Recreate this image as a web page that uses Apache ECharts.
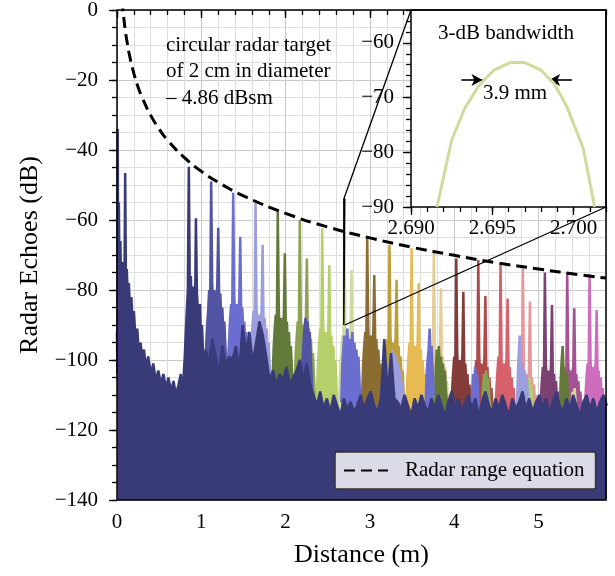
<!DOCTYPE html>
<html>
<head>
<meta charset="utf-8">
<script src="https://cdn.jsdelivr.net/npm/echarts@6.0.0/dist/echarts.min.js"></script>
<style>
  html, body { margin: 0; padding: 0; background: #fff; }
  #chart { width: 615px; height: 576px; }
</style>
</head>
<body>
<div id="chart"></div>
<script>
const FONT = '"Liberation Serif", "DejaVu Serif", serif';
const SAMPLE_STEP = 0.012; // m between samples of the peak / echo snippets
const FLOOR_STEP = 0.04;   // m between samples of the background floor

// tab20b, one colour per target position
const traceColors = ['#393b79', '#5254a3', '#6b6ecf', '#9c9ede', '#637939', '#8ca252', '#b5cf6b',
  '#cedb9c', '#8c6d31', '#bd9e39', '#e7ba52', '#e7cb94', '#843c39', '#ad494a', '#d6616b',
  '#e7969c', '#7b4173', '#a55194', '#ce6dbd'];

// first sample of each target echo (main peak sits on sample 6, double bounce on 13)
const peakStarts = [0.780, 1.045, 1.306, 1.571, 1.835, 2.096, 2.362, 2.625, 2.896, 3.160,
  3.422, 3.686, 3.952, 4.213, 4.477, 4.742, 5.003, 5.268, 5.533];

const peakSkirts = [
  [-108, -104, -99, -92, -86, -80, -44.8, -82, -76, -88, -79, -84, -90, -59.5, -81, -86, -92, -84, -95, -90, -98, -104, -110],
  [-104, -96, -90, -86, -80, -84, -49, -78, -85, -80, -88, -83, -79, -62.2, -84, -81, -88, -85, -92, -89, -96, -102, -110],
  [-108, -100, -94, -88, -84, -88, -52.2, -82, -89, -84, -91, -86, -83, -64.8, -88, -85, -92, -89, -96, -92, -100, -106, -112],
  [-110, -102, -95, -90, -86, -91, -54.9, -85, -92, -87, -94, -89, -86, -67.1, -91, -88, -95, -91, -98, -95, -102, -108, -114],
  [-112, -104, -96, -91, -87, -92, -57.7, -85, -93, -88, -95, -90, -87, -69.5, -92, -89, -96, -92, -99, -96, -103, -110, -116],
  [-114, -106, -98, -93, -89, -94, -60, -88, -95, -90, -97, -92, -89, -71, -94, -91, -98, -94, -101, -98, -105, -112, -118],
  [-116, -108, -100, -95, -91, -96, -62.4, -90, -97, -92, -99, -94, -91, -72.9, -96, -93, -100, -96, -103, -100, -107, -114, -120],
  [-118, -110, -102, -97, -93, -98, -63.6, -92, -99, -94, -101, -96, -93, -74.3, -98, -95, -102, -98, -105, -102, -109, -116, -122],
  [-118, -110, -101, -96, -92, -97, -65, -91, -98, -93, -100, -95, -92, -75.7, -97, -94, -101, -97, -104, -101, -108, -115, -122],
  [-119, -111, -103, -98, -94, -99, -67.1, -93, -100, -95, -102, -97, -94, -77.1, -99, -96, -103, -99, -106, -103, -110, -116, -122],
  [-120, -112, -104, -99, -95, -100, -68.1, -94, -101, -96, -103, -98, -95, -78.1, -100, -97, -104, -100, -107, -104, -111, -117, -123],
  [-121, -113, -106, -101, -97, -102, -69, -96, -103, -98, -105, -100, -97, -79.5, -102, -99, -106, -102, -109, -106, -112, -118, -124],
  [-122, -115, -108, -103, -99, -104, -71, -98, -105, -100, -107, -102, -99, -80.5, -104, -101, -108, -104, -110, -107, -113, -119, -125],
  [-123, -116, -109, -104, -100, -105, -71.4, -99, -106, -101, -108, -103, -100, -81.7, -105, -102, -109, -105, -111, -108, -114, -120, -126],
  [-123, -116, -108, -103, -99, -104, -72.2, -100, -106, -101, -107, -102, -100, -82.4, -104, -102, -108, -105, -110, -108, -114, -120, -126],
  [-124, -118, -112, -107, -103, -108, -73.8, -102, -109, -104, -110, -106, -103, -83.3, -108, -105, -111, -107, -113, -110, -116, -121, -127],
  [-124, -118, -111, -106, -102, -107, -75, -101, -108, -103, -109, -105, -102, -84.3, -107, -104, -110, -106, -112, -109, -115, -121, -127],
  [-124, -118, -111, -106, -102, -107, -75, -101, -107, -103, -109, -104, -102, -85.2, -106, -104, -110, -106, -112, -109, -115, -121, -127],
  [-124, -117, -110, -105, -101, -106, -75.5, -100, -106, -102, -108, -103, -101, -85.7, -105, -103, -109, -105, -111, -108, -114, -120, -126]
];

// multipath echoes further out (which trace, first sample, values)
const echoTrace = [1, 2, 2, 2, 3, 3, 4, 4, 5, 6, 7];
const echoStarts = [2.190, 2.660, 3.660, 4.200, 3.220, 4.740, 3.770, 5.250, 4.330, 4.840, 5.380];
const echoValues = [
  [-110, -100, -94, -90, -88, -93, -89, -96, -92, -99, -106, -114],
  [-112, -102, -97, -93, -99, -95, -91, -97, -94, -99, -96, -92, -98, -95, -100, -97, -103, -99, -106, -112],
  [-114, -104, -100, -97, -91, -99, -96, -103, -110],
  [-117, -109, -104, -107, -102, -107, -104, -110, -117],
  [-113, -104, -99, -102, -97, -101, -98, -103, -99, -105, -101, -107, -103, -110, -106, -112, -118],
  [-116, -106, -99, -93, -100, -104, -101, -106, -103, -108, -105, -110, -117],
  [-113, -102, -97, -100, -96, -103, -99, -104, -101, -107, -103, -109, -112, -118],
  [-117, -106, -100, -96, -104, -108, -105, -103, -109, -112, -118],
  [-117, -108, -104, -107, -103, -108, -105, -110, -113, -118],
  [-117, -110, -106, -108, -105, -109, -107, -112, -118],
  [-118, -112, -109, -111, -108, -112, -117]
];

// navy trace: near-range clutter (distance, dB)
const nearRange = [
  [0.000, -92], [0.004, -104], [0.008, -34], [0.014, -70], [0.022, -55], [0.030, -78],
  [0.040, -66], [0.050, -80], [0.060, -72], [0.070, -84], [0.080, -75], [0.088, -80],
  [0.097, -46.6], [0.106, -79], [0.116, -74], [0.128, -82], [0.140, -78], [0.155, -86],
  [0.170, -82], [0.185, -89], [0.200, -86], [0.220, -94], [0.240, -91], [0.260, -98],
  [0.280, -95], [0.300, -100], [0.320, -97], [0.340, -102], [0.370, -99], [0.400, -104],
  [0.430, -101], [0.460, -106], [0.490, -103], [0.520, -107], [0.550, -104], [0.580, -108],
  [0.610, -105], [0.640, -109], [0.670, -106], [0.700, -110], [0.730, -107], [0.757, -104],
  [0.775, -110]
];

// navy trace: top of the noise floor from 1.05 m on
const floorStart = 1.05;
const floorValues = [
  -97, -101, -94, -99, -104, -96, -102, -99, -100, -96, -103, -90, -98, -92, -101, -95,
  -89, -93, -99, -106, -103, -107, -104, -106, -102, -107, -105, -103, -100, -106, -101, -107,
  -110, -113, -109, -114, -111, -115, -110, -113, -116, -111, -114, -112, -115, -113, -110, -114,
  -111, -109, -113, -115, -111, -94, -110, -98, -111, -112, -114, -110, -113, -116, -111, -114,
  -110, -113, -115, -111, -114, -110, -113, -116, -112, -109, -114, -111, -115, -112, -110, -114,
  -111, -116, -112, -109, -113, -115, -111, -114, -110, -113, -116, -111, -114, -112, -109, -114,
  -111, -115, -112, -110, -114, -111, -116, -112, -109, -113, -115, -111, -114, -110, -113, -116,
  -112, -110, -114, -111, -115, -112, -110, -113
];

// radar range equation curve
const rangeEqDist = [0.06, 0.07, 0.08, 0.1, 0.12, 0.15, 0.2, 0.25, 0.3, 0.4, 0.5, 0.6, 0.8, 1.0,
  1.25, 1.5, 2.0, 2.5, 3.0, 3.5, 4.0, 4.5, 5.0, 5.5, 5.8];
const rangeEqDb = [2.8, 0.2, -2.2, -6.1, -9.2, -13.1, -18.1, -22.0, -25.1, -30.1, -34.0, -37.2,
  -42.2, -46.1, -49.9, -53.1, -58.1, -62.0, -65.1, -67.8, -70.1, -72.2, -74.0, -75.7, -76.6];

// inset: zoom on the 2.7 m peak
const insetDist = [2.6916, 2.6925, 2.6933, 2.6942, 2.6951, 2.6961, 2.6970, 2.6980, 2.6988,
  2.6996, 2.7006, 2.7013];
const insetDb = [-90, -77.8, -72, -67.7, -65, -63.6, -63.6, -65, -67.4, -71.7, -79.3, -90];
const insetX = [2.690, 2.702];
const insetY = [-90, -54];
const bandwidthArrows = [
  [[2.6931, -66.8], [2.6944, -66.8]],
  [[2.6999, -66.8], [2.6985, -66.8]]
];

function sampled(start, step, values) {
  return values.map((v, i) => [+(start + i * step).toFixed(4), v]);
}

// each trace gets its own z so its fill and its line stay together in the stacking
let drawOrder = 0;
function traceSeries(color, data) {
  drawOrder += 1;
  return {
    type: 'line', xAxisIndex: 1, yAxisIndex: 1, data: data,
    symbol: 'none', silent: true, animation: false, z: 2 + drawOrder / 1000,
    lineStyle: { color: color, width: 2.5 },
    areaStyle: { color: color, opacity: 1, origin: 'start' }
  };
}

const minus = v => (v < 0 ? '\u2212' + Math.abs(v) : String(v));

// plotted last trace first, so the navy one ends up on top
const series = [];
for (let k = traceColors.length - 1; k >= 1; k--) {
  series.push(traceSeries(traceColors[k], sampled(peakStarts[k], SAMPLE_STEP, peakSkirts[k])));
  echoTrace.forEach((t, j) => {
    if (t === k) series.push(traceSeries(traceColors[k], sampled(echoStarts[j], SAMPLE_STEP, echoValues[j])));
  });
}
const navyData = nearRange
  .concat(sampled(peakStarts[0], SAMPLE_STEP, peakSkirts[0]))
  .concat(sampled(floorStart, FLOOR_STEP, floorValues));
series.push(traceSeries(traceColors[0], navyData));

series.push({
  name: 'Radar range equation', type: 'line', xAxisIndex: 1, yAxisIndex: 1,
  data: rangeEqDist.map((d, i) => [d, rangeEqDb[i]]),
  symbol: 'none', smooth: true, silent: true, animation: false, z: 5,
  itemStyle: { color: '#000' },
  lineStyle: { color: '#000', width: 3, type: [11, 6] }
});

// zoom window on the main plot
series.push({
  type: 'line', xAxisIndex: 1, yAxisIndex: 1, symbol: 'none', silent: true, animation: false,
  data: [[insetX[0], insetY[1]], [insetX[0], insetY[0]], [insetX[1], insetY[0]],
    [insetX[1], insetY[1]], [insetX[0], insetY[1]]],
  lineStyle: { color: '#000', width: 1.4 }, z: 5
});

series.push({
  type: 'line', xAxisIndex: 3, yAxisIndex: 3, symbol: 'none', silent: true, animation: false,
  data: insetDist.map((d, i) => [d, insetDb[i]]),
  lineStyle: { color: traceColors[7], width: 3 }, z: 5,
  markLine: {
    silent: true, animation: false, symbol: ['none', 'arrow'], symbolSize: [9, 11],
    label: { show: false },
    lineStyle: { color: '#000', width: 1.6, type: 'solid' },
    data: bandwidthArrows.map(a => [{ coord: a[0] }, { coord: a[1] }])
  }
});

const axisText = { fontFamily: FONT, fontSize: 21, color: '#000' };
const black = { color: '#000', width: 1.3 };
const minorGrid = { lineStyle: { color: '#dedede', width: 1 } };
const majorGrid = { lineStyle: { color: '#c9c9c9', width: 1 } };

const option = {
  animation: false,
  backgroundColor: '#fff',
  grid: [
    { left: 117, right: 9, top: 10, bottom: 76, show: true, z: 10, outerBoundsMode: 'none',
      containLabel: false,
      backgroundColor: 'transparent', borderColor: '#000', borderWidth: 1.5 },
    { left: 411, top: 10, width: 195, height: 197, show: true, z: 1, outerBoundsMode: 'none',
      containLabel: false,
      backgroundColor: '#fff', borderColor: '#000', borderWidth: 1.5 }
  ],
  xAxis: [
    { type: 'value', gridIndex: 0, position: 'bottom', offset: 0, min: 0, max: 5.8, interval: 0.2,
      axisLine: { show: false }, axisLabel: { show: false },
      axisTick: { length: 5, lineStyle: black }, splitLine: minorGrid },
    { type: 'value', gridIndex: 0, position: 'bottom', offset: 0, min: 0, max: 5.8, interval: 1,
      axisLine: { show: false },
      axisTick: { length: 8, lineStyle: black },
      axisLabel: Object.assign({ margin: 12, showMaxLabel: false }, axisText),
      splitLine: majorGrid,
      name: 'Distance (m)', nameLocation: 'middle', nameGap: 42,
      nameTextStyle: { fontFamily: FONT, fontSize: 26, color: '#000' } },
    { type: 'value', gridIndex: 1, position: 'bottom', offset: 0, min: insetX[0], max: insetX[1], interval: 0.001,
      axisLine: { show: false }, axisLabel: { show: false }, splitLine: { show: false },
      axisTick: { length: 5, lineStyle: black } },
    { type: 'value', gridIndex: 1, position: 'bottom', offset: 0, min: insetX[0], max: insetX[1], interval: 0.005,
      axisLine: { show: false }, splitLine: { show: false },
      axisTick: { length: 8, lineStyle: black },
      axisLabel: Object.assign({ margin: 11, showMaxLabel: false, formatter: v => v.toFixed(3) }, axisText) }
  ],
  yAxis: [
    { type: 'value', gridIndex: 0, position: 'left', offset: 0, min: -140, max: 0, interval: 5,
      axisLine: { show: false }, axisLabel: { show: false },
      axisTick: { length: 5, lineStyle: black }, splitLine: minorGrid },
    { type: 'value', gridIndex: 0, position: 'left', offset: 0, min: -140, max: 0, interval: 20,
      axisLine: { show: false },
      axisTick: { length: 8, lineStyle: black },
      axisLabel: Object.assign({ margin: 19, formatter: minus }, axisText),
      splitLine: majorGrid,
      name: 'Radar Echoes (dB)', nameLocation: 'middle', nameGap: 74,
      nameTextStyle: { fontFamily: FONT, fontSize: 26, color: '#000' } },
    { type: 'value', gridIndex: 1, position: 'left', offset: 0, min: insetY[0], max: insetY[1], interval: 2,
      axisLine: { show: false }, axisLabel: { show: false }, splitLine: { show: false },
      axisTick: { length: 5, lineStyle: black } },
    { type: 'value', gridIndex: 1, position: 'left', offset: 0, min: insetY[0], max: insetY[1], interval: 10,
      axisLine: { show: false }, splitLine: { show: false },
      axisTick: { length: 8, lineStyle: black },
      axisLabel: Object.assign({ margin: 17, showMaxLabel: false, formatter: minus }, axisText) }
  ],
  title: [
    { text: 'circular radar target\nof 2 cm in diameter\n\u2013 4.86 dBsm', left: 166, top: 32, padding: 0,
      textStyle: { fontFamily: FONT, fontSize: 21, fontWeight: 'normal', color: '#000', lineHeight: 26.5 } },
    { text: '3-dB bandwidth', left: 438, top: 23, padding: 0,
      textStyle: { fontFamily: FONT, fontSize: 21, fontWeight: 'normal', color: '#000' } },
    { text: '3.9 mm', left: 483, top: 83, padding: 0,
      textStyle: { fontFamily: FONT, fontSize: 21, fontWeight: 'normal', color: '#000' } }
  ],
  legend: {
    data: [{ name: 'Radar range equation', itemStyle: { opacity: 0 } }],
    left: 335, top: 452, selectedMode: false,
    padding: [8, 11, 8, 8], itemWidth: 44, itemHeight: 14,
    itemStyle: { opacity: 0 },
    backgroundColor: 'rgba(255,255,255,0.82)', borderColor: '#333', borderWidth: 1.5, borderRadius: 2,
    textStyle: { fontFamily: FONT, fontSize: 21, color: '#000', padding: [0, 0, 0, 12] }, z: 20
  },
  series: series
};

const chart = echarts.init(document.getElementById('chart'), null, { renderer: 'canvas' });
chart.setOption(option);

// mark_inset style connectors from the zoom window to the inset corners
const main = { xAxisIndex: 1, yAxisIndex: 1 };
const inset = { xAxisIndex: 3, yAxisIndex: 3 };
const p1 = chart.convertToPixel(main, [insetX[0], insetY[1]]);
const q1 = chart.convertToPixel(inset, [insetX[0], insetY[1]]);
const p2 = chart.convertToPixel(main, [insetX[1], insetY[0]]);
const q2 = chart.convertToPixel(inset, [insetX[1], insetY[0]]);
chart.setOption({
  graphic: [p1, p2].map((p, i) => {
    const q = i === 0 ? q1 : q2;
    return { type: 'line', silent: true, z: 30,
      shape: { x1: p[0], y1: p[1], x2: q[0], y2: q[1] },
      style: { stroke: '#000', lineWidth: 1.3 } };
  })
});
</script>
</body>
</html>
